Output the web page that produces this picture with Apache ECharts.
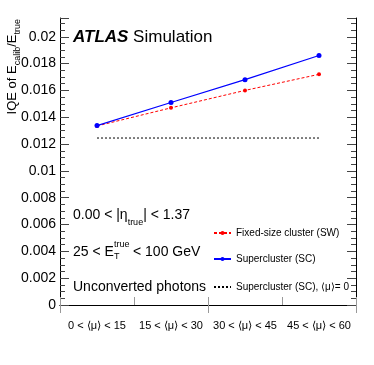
<!DOCTYPE html>
<html>
<head>
<meta charset="utf-8">
<script src="https://cdn.jsdelivr.net/npm/echarts@6/dist/echarts.min.js"></script>
<style>
  html, body { margin: 0; padding: 0; background: #fff; }
  #chart { width: 374px; height: 365px; }
</style>
</head>
<body>
<div id="chart"></div>
<script>
// pile-up bins
const categories = ['0 < ⟨μ⟩ < 15', '15 < ⟨μ⟩ < 30', '30 < ⟨μ⟩ < 45', '45 < ⟨μ⟩ < 60']
// IQE values
const swValues = [0.01335, 0.0147, 0.0160, 0.0172]
const scValues = [0.01338, 0.0151, 0.0168, 0.0186]
const scMu0Values = [0.01245, 0.01245, 0.01245, 0.01245]
const seriesNames = ['Fixed-size cluster (SW)', 'Supercluster (SC)', 'Supercluster (SC), ⟨μ⟩= 0']

const font = 'Liberation Sans, Arial, Helvetica, sans-serif'
const tickColor = '#444'

const yAxisBase = {
  type: 'value',
  min: 0,
  max: 0.0214,
  interval: 0.002,
  axisLine: { show: true, lineStyle: { color: '#000', width: 1 } },
  axisTick: { show: true, inside: true, length: 9, lineStyle: { color: tickColor } },
  minorTick: { show: true, splitNumber: 4, length: 5, lineStyle: { color: tickColor } },
  splitLine: { show: false },
}

const xAxisBase = {
  type: 'category',
  data: categories,
  boundaryGap: true,
  axisLine: { show: true, lineStyle: { color: '#000', width: 1 } },
  axisTick: { show: true, inside: true, length: 8, lineStyle: { color: '#999' } },
  splitLine: { show: false },
}

const legendBase = {
  orient: 'vertical',
  left: 213,
  padding: 0,
  itemWidth: 17,
  itemHeight: 5,
  textStyle: { fontFamily: font, fontSize: 10, color: '#000' },
  selectedMode: false,
}

const chart = echarts.init(document.getElementById('chart'), null, { renderer: 'canvas' })
chart.setOption({
  animation: false,
  backgroundColor: '#fff',
  grid: { left: 60, right: 18, top: 18, bottom: 60 },
  xAxis: [
    {
      ...xAxisBase,
      position: 'bottom',
      axisLabel: { fontFamily: font, fontSize: 11, color: '#000', margin: 15, interval: 0 },
    },
    { ...xAxisBase, position: 'top', axisLabel: { show: false } },
  ],
  yAxis: [
    {
      ...yAxisBase,
      position: 'left',
      axisLabel: {
        fontFamily: font, fontSize: 14, color: '#000', margin: 4,
        formatter: v => (Math.abs(v - 0.0214) < 1e-9 ? '' : String(+v.toFixed(3))),
      },
    },
    { ...yAxisBase, position: 'right', axisLabel: { show: false } },
  ],
  legend: [
    { ...legendBase, top: 228, data: [seriesNames[0]] },
    { ...legendBase, top: 254, data: [seriesNames[1]] },
    { ...legendBase, top: 282, data: [{ name: seriesNames[2], itemStyle: { opacity: 0 } }] },
  ],
  series: [
    {
      name: seriesNames[0],
      type: 'line',
      data: swValues,
      symbol: 'circle',
      symbolSize: 4,
      itemStyle: { color: '#ff0000' },
      lineStyle: { color: '#ff0000', width: 1, type: [3, 2] },
      z: 3,
    },
    {
      name: seriesNames[1],
      type: 'line',
      data: scValues,
      symbol: 'circle',
      symbolSize: 5,
      itemStyle: { color: '#0000ff' },
      lineStyle: { color: '#0000ff', width: 1.2 },
      z: 4,
    },
    {
      name: seriesNames[2],
      type: 'line',
      data: scMu0Values,
      symbol: 'none',
      itemStyle: { color: '#000' },
      lineStyle: { color: '#000', width: 1, type: [2, 2] },
      z: 2,
    },
  ],
  graphic: [
    {
      type: 'text', x: 73, y: 37,
      style: {
        text: '{b|ATLAS} Simulation',
        fontFamily: font, fontSize: 17, fill: '#000', verticalAlign: 'middle',
        rich: { b: { fontFamily: font, fontSize: 17, fontWeight: 'bold', fontStyle: 'italic' } },
      },
    },
    {
      // y axis title, reads bottom to top
      type: 'text', x: 12, y: 19, rotation: Math.PI / 2,
      style: {
        text: '{m|IQE of E}{s|calib}{m|/E}{s|true}',
        align: 'right', verticalAlign: 'middle', fill: '#000',
        rich: {
          m: { fontFamily: font, fontSize: 13, lineHeight: 24, verticalAlign: 'middle' },
          s: { fontFamily: font, fontSize: 9, lineHeight: 24, verticalAlign: 'bottom', padding: [0, 0, 2, 0] },
        },
      },
    },
    {
      type: 'text', x: 73, y: 215,
      style: {
        text: '{m|0.00 < |η}{s|true}{m|| < 1.37}',
        verticalAlign: 'middle', fill: '#000',
        rich: {
          m: { fontFamily: font, fontSize: 14, lineHeight: 26, verticalAlign: 'middle' },
          s: { fontFamily: font, fontSize: 9, lineHeight: 26, verticalAlign: 'bottom', padding: [0, 0, 1, 0] },
        },
      },
    },
    {
      type: 'text', x: 73, y: 252,
      style: { text: '25 < E', fontFamily: font, fontSize: 14, fill: '#000', verticalAlign: 'middle' },
    },
    {
      type: 'text', x: 114, y: 249,
      style: { text: 'true', fontFamily: font, fontSize: 9, fill: '#000', verticalAlign: 'bottom' },
    },
    {
      type: 'text', x: 114, y: 252,
      style: { text: 'T', fontFamily: font, fontSize: 9, fill: '#000', verticalAlign: 'top' },
    },
    {
      type: 'text', x: 133, y: 252,
      style: { text: '< 100 GeV', fontFamily: font, fontSize: 14, fill: '#000', verticalAlign: 'middle' },
    },
    {
      type: 'text', x: 73, y: 287,
      style: { text: 'Unconverted photons', fontFamily: font, fontSize: 14, fill: '#000', verticalAlign: 'middle' },
    },
  ],
})
</script>
</body>
</html>
